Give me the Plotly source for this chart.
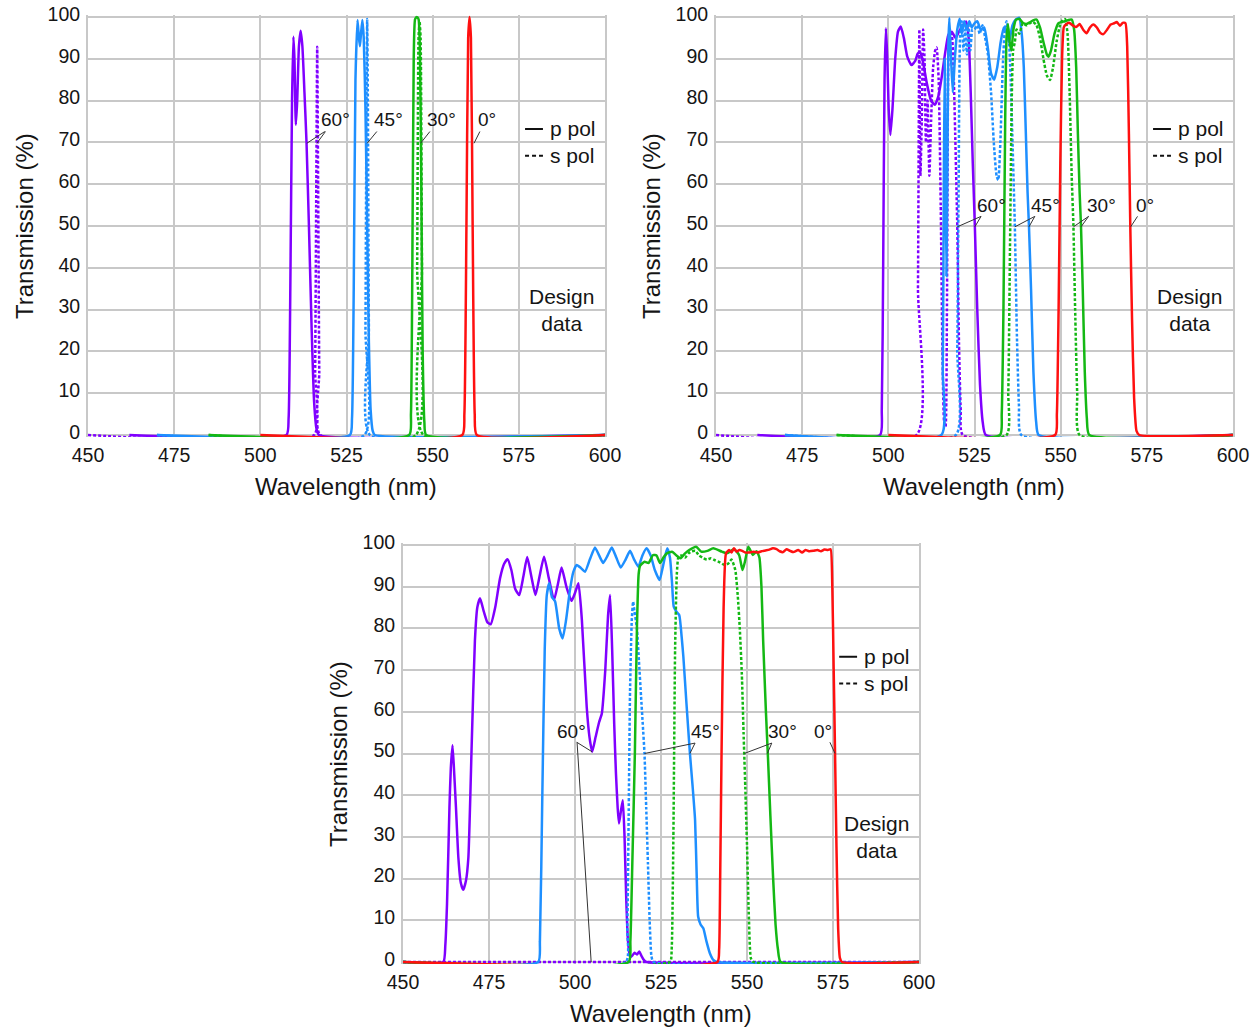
import plotly.graph_objects as go

# ---------------- data ----------------
WL_TICKS = [450, 475, 500, 525, 550, 575, 600]
T_TICKS = [0, 10, 20, 30, 40, 50, 60, 70, 80, 90, 100]
ANGLE_TEXT = ["60°", "45°", "30°", "0°"]
LEGEND_TEXT = ["p pol", "s pol"]
NOTE_TEXT = ["Design", "data"]
X_TITLE = "Wavelength (nm)"
Y_TITLE = "Transmission (%)"

# ---- Panel A (top left) ----
A_60P_WL = [462, 507.6, 508.2, 508.7, 509.2, 509.6, 509.9, 510.3, 510.7, 511.2, 511.7, 512.2, 512.8, 513.4, 514.1, 514.9, 515.6, 516.3, 517.0, 600]
A_60P_T = [0, 0, 4, 35, 80, 95.3, 90, 74.2, 80, 93, 96.7, 93, 82, 70, 50, 25, 8, 1.5, 0, 0]
A_60S_WL = [450, 515.6, 515.9, 516.2, 516.5, 516.8, 517.1, 517.4, 600]
A_60S_T = [0, 0, 15, 55, 92.9, 55, 15, 0, 0]
A_45P_WL = [470, 526.0, 526.6, 527.1, 527.6, 528.2, 528.6, 528.9, 529.2, 529.6, 530.0, 530.5, 531.0, 531.5, 532.0, 532.6, 533.2, 600]
A_45P_T = [0, 0, 4, 35, 85, 99.3, 95, 93, 96, 99.3, 95, 78, 50, 22, 6, 1, 0, 0]
A_45S_WL = [470, 530.2, 530.5, 530.8, 531.0, 531.2, 531.5, 531.8, 600]
A_45S_T = [0, 0, 25, 80, 99.5, 80, 25, 0, 0]
A_30P_WL = [485, 543.2, 543.7, 544.1, 544.5, 544.9, 545.4, 545.9, 546.3, 546.7, 547.1, 547.6, 548.1, 600]
A_30P_T = [0, 0, 5, 40, 90, 99.5, 100, 99.5, 92, 60, 20, 3, 0, 0]
A_30S_WL = [485, 545.1, 545.5, 545.9, 546.2, 546.5, 546.9, 547.3, 600]
A_30S_T = [0, 0, 40, 95, 99, 95, 40, 0, 0]
A_0_WL = [500, 558.6, 559.2, 559.8, 560.3, 560.7, 561.1, 561.6, 562.2, 562.8, 600]
A_0_T = [0, 0, 5, 50, 95, 100, 95, 50, 5, 0, 0]

# ---- Panel B (top right) ----
B_60P_WL = [462, 497.6, 498.1, 498.5, 498.9, 499.3, 499.7, 500.1, 500.6, 501.2, 502.0, 502.8, 503.6, 504.5, 505.5, 506.7, 507.8, 508.5, 509.2, 510.0, 511.2, 512.4, 513.5, 514.5, 515.5, 516.5, 517.4, 518.4, 519.5, 520.5, 521.6, 522.6, 523.3, 523.9, 524.5, 525.1, 525.8, 526.6, 527.4, 528.3, 600]
B_60P_T = [0, 0, 6, 40, 85, 97.3, 90, 78, 71.8, 78, 90, 96.5, 97.7, 95, 90.5, 88.5, 89.5, 91.2, 91.7, 89.5, 84, 80, 79, 81, 85.7, 91.5, 95.7, 96.5, 95, 96.5, 98, 98.9, 95, 82, 65, 50, 30, 12, 3, 0, 0]
B_60S_WL = [450, 508.2, 508.6, 509.0, 509.3, 509.7, 510.1, 510.5, 510.9, 511.4, 511.9, 512.4, 513.0, 513.6, 514.0, 514.6, 515.2, 515.7, 516.2, 516.6, 517.0, 517.4, 517.8, 518.4, 518.9, 519.4, 520.0, 520.5, 521.0, 521.6, 600]
B_60S_T = [0, 0, 35, 97, 62, 75, 97, 90, 70, 80, 62, 75, 88, 92, 92.7, 85, 55, 20, 3, 2, 30, 90, 97, 96, 88, 72, 50, 22, 6, 0, 0]
B_45P_WL = [470, 515.4, 515.8, 516.1, 516.35, 516.6, 516.85, 517.1, 517.4, 517.7, 518.2, 518.7, 519.3, 520.0, 520.7, 521.3, 522.0, 522.7, 523.5, 524.2, 525.0, 525.8, 526.8, 527.8, 528.8, 529.8, 530.7, 531.6, 532.6, 533.5, 534.3, 535.0, 536.0, 537.0, 538.0, 538.7, 539.3, 539.9, 540.4, 540.8, 541.4, 542.1, 542.9, 543.6, 600]
B_45P_T = [0, 0, 15, 60, 90, 60, 38, 60, 93, 99.8, 90, 82, 90, 97, 99.6, 96, 99, 97, 99, 97.5, 98.5, 99, 97, 97.5, 93, 86.5, 85, 88, 94, 97.5, 96.5, 94, 98, 99.4, 99.8, 96, 88, 72, 58, 50, 35, 15, 3, 0, 0]
B_45S_WL = [470, 519.6, 520.0, 520.4, 520.8, 521.3, 521.8, 522.3, 522.8, 523.3, 523.8, 524.4, 525.0, 525.8, 526.5, 527.3, 528.1, 528.9, 529.8, 530.6, 531.4, 531.9, 532.5, 533.2, 533.8, 534.3, 534.9, 535.5, 536.1, 536.7, 537.3, 537.9, 538.6, 600]
B_45S_T = [0, 0, 20, 60, 95, 99, 92, 97, 91, 98, 92, 97, 97, 98, 96, 98, 95, 91, 82, 70, 62, 61, 70, 88, 97, 99, 96, 85, 68, 50, 24, 7, 0, 0]
B_30P_WL = [485, 532.4, 532.9, 533.4, 533.9, 534.3, 534.7, 535.2, 535.7, 536.3, 537.0, 538.0, 539.0, 540.0, 541.0, 542.0, 543.0, 544.0, 545.0, 546.0, 546.5, 547.2, 548.2, 549.3, 550.3, 551.3, 552.3, 553.2, 553.9, 554.5, 555.0, 555.5, 555.9, 556.4, 557.0, 557.6, 558.3, 600]
B_30P_T = [0, 0, 5, 30, 75, 95, 98.3, 94, 92, 97, 99.3, 99.6, 98.6, 98.3, 98.7, 99.2, 99.4, 97.5, 94, 91, 90.5, 92, 96, 98.5, 98.8, 99, 99.3, 99.4, 97, 88, 72, 58, 50, 35, 15, 4, 0, 0]
B_30S_WL = [485, 534.3, 534.8, 535.3, 535.8, 536.2, 536.7, 537.2, 538.0, 539.0, 540.0, 541.0, 542.0, 543.0, 544.0, 545.0, 546.0, 546.9, 547.8, 548.8, 549.8, 550.6, 551.3, 552.0, 552.6, 553.2, 553.7, 554.2, 554.8, 555.5, 600]
B_30S_T = [0, 0, 10, 45, 80, 92, 94, 97, 96, 98.5, 98, 98.5, 98.8, 98, 95, 90, 86, 84.9, 88, 94, 98, 99.3, 99.5, 96, 82, 62, 50, 30, 10, 0, 0]
B_0_WL = [500, 548.4, 548.9, 549.4, 549.9, 550.4, 550.9, 551.5, 552.5, 553.5, 554.5, 555.5, 556.5, 557.5, 558.5, 559.5, 560.5, 561.5, 562.4, 563.5, 564.5, 565.5, 566.3, 567.2, 568.0, 568.8, 569.3, 569.8, 570.2, 570.7, 571.3, 572.0, 572.8, 600]
B_0_T = [0, 0, 5, 30, 65, 90, 97.5, 98.2, 98.6, 98, 97.6, 98.3, 97, 96.1, 97.5, 98.2, 97.5, 96.2, 95.9, 97, 98.2, 98.5, 98.8, 97.9, 98.6, 98.5, 93, 72, 50, 28, 9, 1, 0, 0]

# ---- Panel C (bottom) ----
C_60P_WL = [450, 461.7, 462.3, 462.8, 463.5, 463.9, 464.4, 464.9, 465.4, 466.1, 466.8, 467.5, 468.3, 469.0, 470.0, 470.9, 471.6, 472.4, 473.5, 474.5, 475.5, 476.8, 478.2, 479.4, 480.4, 481.5, 482.6, 483.8, 485.0, 486.1, 487.3, 488.5, 489.7, 491.0, 492.4, 493.9, 495.0, 496.1, 497.5, 499.0, 500.0, 501.0, 502.0, 503.4, 504.2, 505.0, 506.0, 507.0, 507.8, 508.8, 509.6, 510.2, 510.8, 511.4, 511.9, 512.4, 512.8, 513.4, 513.9, 514.4, 514.9, 515.4, 516.0, 516.6, 517.3, 518.0, 518.7, 519.3, 520.0, 520.8, 600]
C_60P_T = [0, 0, 4, 14, 37, 46.5, 52, 45, 37, 25, 19, 17.3, 19.5, 25, 53, 77, 85, 87.2, 84, 81.5, 81, 85, 92, 95.5, 96.6, 94, 89.5, 88, 92.5, 97.1, 92.5, 88, 92.5, 97.2, 92, 86.8, 90.5, 94.6, 90, 86.6, 88.5, 90.8, 82, 61.2, 54, 50.4, 54, 57.5, 59.6, 70, 83, 88, 75, 57, 45.3, 37, 33.2, 36.5, 38.8, 30, 15, 5, 1.2, 1.5, 2.2, 1.8, 2.5, 1.5, 0.5, 0, 0]
C_60S_WL = [450, 600]
C_60S_T = [0, 0]
C_45P_WL = [450, 489.3, 489.8, 490.5, 491.2, 491.8, 492.5, 493.3, 494.2, 495.4, 496.4, 497.4, 498.5, 499.5, 500.5, 501.7, 502.9, 504.3, 505.8, 507.0, 508.2, 509.5, 510.7, 512.0, 513.3, 514.7, 516.0, 517.2, 518.4, 519.6, 520.8, 522.0, 523.2, 524.6, 525.6, 526.8, 527.6, 528.2, 528.7, 529.5, 530.3, 531.0, 531.5, 532.4, 533.4, 534.2, 534.9, 535.4, 535.8, 536.5, 537.3, 538.2, 539.2, 540.2, 541.2, 600]
C_45P_T = [0, 0, 5, 40, 75, 88, 90.8, 87.5, 86.5, 80, 77.6, 82, 89, 93.5, 95.2, 94.5, 93.6, 96.5, 99.4, 97.5, 95.7, 97.5, 99.4, 97, 94.6, 96.5, 98.6, 96.5, 94.8, 97.5, 99.2, 97.5, 94, 91.6, 95, 99.2, 97, 91, 85.2, 84, 83.2, 78, 73.2, 62, 50.1, 42, 34.1, 20, 10.9, 9, 8.1, 5, 2.1, 0.5, 0, 0]
C_45S_WL = [450, 514.8, 515.2, 515.6, 516.0, 516.5, 516.9, 517.3, 518.0, 518.6, 519.2, 519.7, 520.2, 520.7, 521.2, 521.7, 522.2, 522.8, 600]
C_45S_T = [0, 0, 8, 35, 65, 82, 86.4, 84, 80, 72, 63.7, 57, 50, 37, 23.7, 10, 1.5, 0, 0]
C_30P_WL = [450, 515.6, 516.1, 516.7, 517.4, 518.0, 518.5, 518.9, 520.2, 521.4, 522.7, 523.7, 524.7, 525.7, 526.7, 528.2, 529.5, 530.7, 532.0, 533.2, 535.2, 536.7, 538.5, 540.2, 542.7, 544.2, 546.2, 547.7, 548.7, 549.4, 550.4, 551.7, 552.8, 553.6, 554.2, 554.7, 555.5, 556.1, 556.8, 557.6, 558.3, 559.0, 559.8, 600]
C_30P_T = [0, 0, 5, 25, 50, 80, 93, 95, 96, 95.7, 97.6, 97.5, 95.7, 97, 98, 98.4, 97.5, 96.8, 98, 98.8, 99.6, 98.4, 98.6, 99.2, 98.4, 98, 99, 97.6, 94, 96, 99.6, 97.6, 98.5, 97, 90, 77, 60, 49, 35, 20, 9, 3, 0, 0]
C_30S_WL = [450, 527.6, 528.1, 528.6, 529.1, 529.6, 530.1, 531.0, 532.0, 533.0, 534.0, 535.0, 536.0, 537.0, 538.3, 539.5, 540.8, 542.2, 543.5, 544.5, 545.5, 546.6, 547.3, 547.9, 548.5, 549.0, 549.5, 550.0, 550.5, 551.1, 551.8, 600]
C_30S_T = [0, 0, 3, 30, 75, 93, 97.2, 97.5, 97, 98, 98.5, 98.6, 97.5, 97, 96.5, 96.8, 96.3, 95.8, 95.2, 95.5, 96.5, 94, 88, 80, 69, 55, 42, 28, 12, 1, 0, 0]
C_0_WL = [450, 541.4, 541.9, 542.2, 542.6, 543.2, 543.9, 544.8, 545.5, 546.2, 547.0, 547.8, 548.6, 549.5, 550.5, 551.8, 553.0, 554.2, 555.4, 556.5, 557.5, 558.6, 559.5, 560.5, 561.5, 562.5, 563.5, 564.9, 566.0, 567.0, 568.0, 569.3, 570.5, 571.5, 572.5, 573.5, 574.3, 574.8, 575.2, 575.6, 576.0, 576.5, 577.0, 577.6, 600]
C_0_T = [0, 0, 3, 20, 50, 85, 98, 98.8, 98.2, 99.2, 98.4, 98.8, 98.6, 98.2, 98.2, 98.4, 98.2, 98.5, 98.7, 98.9, 99.2, 99, 98.5, 98.3, 99, 98.6, 98.3, 98.8, 98.2, 98.8, 98.5, 98.6, 98.8, 98.5, 98.9, 98.8, 99, 90, 70, 50, 28, 8, 1, 0, 0]

# ---- angle label positions (wavelength, %) and leader lines ----
A_LABEL_X = [521.9, 537.2, 552.6, 565.8]
A_LABEL_Y = [75.4, 75.4, 75.4, 75.4]
A_LEADERS = [(518.7, 72.6, 513.5, 69.8), (518.9, 72.6, 516.4, 69.8),
             (533.8, 72.6, 531.0, 69.8), (549.2, 72.6, 546.5, 69.8),
             (563.7, 72.6, 562.0, 69.8)]
B_LABEL_X = [529.8, 545.6, 561.8, 574.5]
B_LABEL_Y = [55.0, 55.0, 55.0, 55.0]
B_LEADERS = [(526.9, 52.3, 520.0, 49.8), (526.9, 52.3, 525.1, 49.8),
             (542.5, 52.3, 536.7, 49.8), (542.5, 52.3, 540.8, 49.8),
             (558.1, 52.3, 553.7, 49.8), (558.1, 52.3, 555.9, 49.8),
             (572.3, 52.3, 570.3, 49.8)]
C_LABEL_X = [499.1, 537.8, 560.3, 572.0]
C_LABEL_Y = [55.2, 55.2, 55.2, 55.2]
C_LEADERS = [(500.5, 52.7, 505.0, 50.4), (500.6, 52.7, 504.7, 0.0),
             (534.9, 52.5, 520.2, 50.0), (534.9, 52.5, 533.4, 50.0),
             (557.2, 52.5, 549.2, 50.0), (557.2, 52.5, 555.9, 50.0),
             (574.1, 52.7, 575.6, 50.0)]

# ---------------- styles / layout ----------------
W, H = 1259, 1027
COL = {"60": "#8000ff", "45": "#1e8fff", "30": "#14b814", "0": "#ff1010"}
DOT = "3px,2px"
FONT = "Arial, 'Liberation Sans', sans-serif"
GRID = "#c8c8c8"
TXT = "#151515"
YPAD = 0.5  # small padding so 0 % and 100 % lines are fully visible


def ydom(px0, px100):
    per = (px0 - px100) / 100.0
    bottom = px0 + YPAD * per
    top = px100 - YPAD * per
    return [1 - bottom / H, 1 - top / H]


PANELS = [
    dict(xa="x", ya="y", xdom=[88 / W, 605 / W], ydom=ydom(435, 17),
         xt=(346, 486), yt=(25, 226),
         curves=[(A_60P_WL, A_60P_T, "60", "solid"), (A_60S_WL, A_60S_T, "60", DOT),
                 (A_45P_WL, A_45P_T, "45", "solid"), (A_45S_WL, A_45S_T, "45", DOT),
                 (A_30P_WL, A_30P_T, "30", "solid"), (A_30S_WL, A_30S_T, "30", DOT),
                 (A_0_WL, A_0_T, "0", "solid")],
         lx=A_LABEL_X, ly=A_LABEL_Y, leaders=A_LEADERS),
    dict(xa="x2", ya="y2", xdom=[716 / W, 1233 / W], ydom=ydom(435, 17),
         xt=(974, 486), yt=(652, 226),
         curves=[(B_60P_WL, B_60P_T, "60", "solid"), (B_60S_WL, B_60S_T, "60", DOT),
                 (B_45P_WL, B_45P_T, "45", "solid"), (B_45S_WL, B_45S_T, "45", DOT),
                 (B_30P_WL, B_30P_T, "30", "solid"), (B_30S_WL, B_30S_T, "30", DOT),
                 (B_0_WL, B_0_T, "0", "solid")],
         lx=B_LABEL_X, ly=B_LABEL_Y, leaders=B_LEADERS),
    dict(xa="x3", ya="y3", xdom=[403 / W, 919 / W], ydom=ydom(962, 545),
         xt=(661, 1013), yt=(338, 754),
         curves=[(C_60P_WL, C_60P_T, "60", "solid"), (C_60S_WL, C_60S_T, "60", DOT),
                 (C_45P_WL, C_45P_T, "45", "solid"), (C_45S_WL, C_45S_T, "45", DOT),
                 (C_30P_WL, C_30P_T, "30", "solid"), (C_30S_WL, C_30S_T, "30", DOT),
                 (C_0_WL, C_0_T, "0", "solid")],
         lx=C_LABEL_X, ly=C_LABEL_Y, leaders=C_LEADERS),
]

fig = go.Figure()
annotations = []
shapes = []
layout_axes = {}

for i, p in enumerate(PANELS):
    for wl, t, key, dash in p["curves"]:
        fig.add_trace(go.Scatter(
            x=wl, y=t, mode="lines", xaxis=p["xa"], yaxis=p["ya"],
            line=dict(color=COL[key], width=2.5, dash=dash, shape="spline", smoothing=0.5),
            showlegend=False, hoverinfo="skip"))
    xr = p["xa"]
    yr = p["ya"]
    # angle labels
    for txt, x, y in zip(ANGLE_TEXT, p["lx"], p["ly"]):
        annotations.append(dict(x=x, y=y, xref=xr, yref=yr, text=txt, showarrow=False,
                                font=dict(size=19, color=TXT, family=FONT),
                                xanchor="center", yanchor="middle"))
    for x0, y0, x1, y1 in p["leaders"]:
        shapes.append(dict(type="line", xref=xr, yref=yr, x0=x0, y0=y0, x1=x1, y1=y1,
                           line=dict(color="#333333", width=1)))
    # legend key (line samples + two-line text)
    for yv, dsh in [(73.2, "solid"), (66.8, "4px,3px")]:
        shapes.append(dict(type="line", xref=xr, yref=yr, x0=576.8, x1=582.0, y0=yv, y1=yv,
                           line=dict(color="#111111", width=2, dash=dsh)))
    annotations.append(dict(x=583.4, y=70.0, xref=xr, yref=yr,
                            text="<br>".join(LEGEND_TEXT), showarrow=False, align="left",
                            font=dict(size=21, color=TXT, family=FONT),
                            xanchor="left", yanchor="middle"))
    # design data note
    annotations.append(dict(x=587.5, y=30.0, xref=xr, yref=yr,
                            text="<br>".join(NOTE_TEXT), showarrow=False, align="center",
                            font=dict(size=21, color=TXT, family=FONT),
                            xanchor="center", yanchor="middle"))
    # axis titles
    annotations.append(dict(x=p["xt"][0] / W, y=1 - p["xt"][1] / H, xref="paper", yref="paper",
                            text=X_TITLE, showarrow=False,
                            font=dict(size=24, color=TXT, family=FONT),
                            xanchor="center", yanchor="middle"))
    annotations.append(dict(x=p["yt"][0] / W, y=1 - p["yt"][1] / H, xref="paper", yref="paper",
                            text=Y_TITLE, showarrow=False, textangle=-90,
                            font=dict(size=24, color=TXT, family=FONT),
                            xanchor="center", yanchor="middle"))

    suffix = "" if i == 0 else str(i + 1)
    layout_axes["xaxis" + suffix] = dict(
        domain=p["xdom"], anchor=yr, range=[450, 600], tickmode="array", tickvals=WL_TICKS,
        showgrid=True, gridcolor=GRID, gridwidth=2, showline=False,
        zeroline=False, ticks="", tickfont=dict(size=19.5, color=TXT, family=FONT),
        ticklabelstandoff=4,
        automargin=False, fixedrange=True, layer="below traces")
    layout_axes["yaxis" + suffix] = dict(
        domain=p["ydom"], anchor=xr, range=[-YPAD, 100 + YPAD], tickmode="array", tickvals=T_TICKS,
        showgrid=True, gridcolor=GRID, gridwidth=2, showline=True, linecolor=GRID, linewidth=2,
        mirror=True, zeroline=False, ticks="", tickfont=dict(size=19.5, color=TXT, family=FONT),
        ticklabelstandoff=2, ticklabelshift=-3,
        automargin=False, fixedrange=True, layer="below traces")

fig.update_layout(
    width=W, height=H, margin=dict(l=0, r=0, t=0, b=0, pad=0),
    paper_bgcolor="white", plot_bgcolor="white",
    font=dict(family=FONT, color=TXT),
    annotations=annotations, shapes=shapes, showlegend=False,
    **layout_axes)

fig.write_html("out.html", config={"displayModeBar": False},
               post_script="document.body.style.margin='0px';")
